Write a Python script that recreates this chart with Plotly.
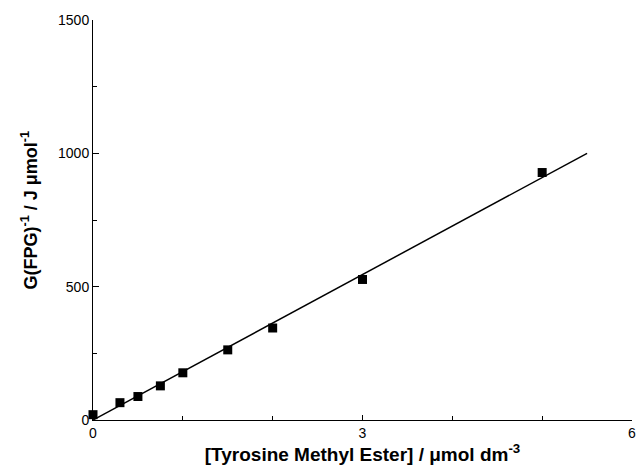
import plotly.graph_objects as go

# measured data
conc = [0, 0.3, 0.5, 0.75, 1.0, 1.5, 2.0, 3.0, 5.0]
g_inv = [20, 65, 88, 128, 177, 263, 345, 527, 928]

# fitted line
fit_x = [0, 5.5]
fit_y = [0, 1000]

x_ticks = [0, 3, 6]
y_ticks = [0, 500, 1000, 1500]

fig = go.Figure()
fig.add_trace(go.Scatter(x=fit_x, y=fit_y, mode="lines",
                         line=dict(color="black", width=1.5),
                         showlegend=False, cliponaxis=False))
fig.add_trace(go.Scatter(x=conc, y=g_inv, mode="markers",
                         marker=dict(symbol="square", size=9, color="black"),
                         showlegend=False, cliponaxis=False))

font_family = "Liberation Sans, Arial, sans-serif"
fig.update_layout(
    width=638, height=468,
    margin=dict(l=93, r=6, t=20, b=48),
    paper_bgcolor="white", plot_bgcolor="white",
    font=dict(family=font_family, color="black", size=14),
    xaxis=dict(
        range=[0, 6], tickvals=x_ticks, ticktext=[str(v) for v in x_ticks],
        automargin=False, ticklabeloverflow="allow",
        showline=True, linecolor="black", linewidth=1,
        ticks="inside", ticklen=5, tickcolor="black",
        minor=dict(dtick=1, ticks="inside", ticklen=4, tickcolor="black"),
        showgrid=False, zeroline=False,
        tickfont=dict(size=14),
        title=dict(text="<b>[Tyrosine Methyl Ester] / μmol dm<sup>-3</sup></b>",
                   font=dict(size=19), standoff=3),
    ),
    yaxis=dict(
        range=[0, 1500], tickvals=y_ticks, ticktext=[str(v) for v in y_ticks],
        automargin=False, ticklabeloverflow="allow",
        showline=True, linecolor="black", linewidth=1,
        ticks="inside", ticklen=6, tickcolor="black",
        minor=dict(dtick=250, ticks="inside", ticklen=4, tickcolor="black"),
        showgrid=False, zeroline=False,
        tickfont=dict(size=14),
    ),
    annotations=[dict(
        text="<b>G(FPG)<sup>-1</sup> / J μmol<sup>-1</sup></b>",
        xref="paper", yref="paper", x=-0.118, y=0.525,
        xanchor="center", yanchor="middle", textangle=-90,
        showarrow=False, font=dict(size=18),
    )],
)

fig.write_html("out.html", config={"displayModeBar": False},
               post_script="document.body.style.margin='0';document.body.style.overflow='hidden';")
